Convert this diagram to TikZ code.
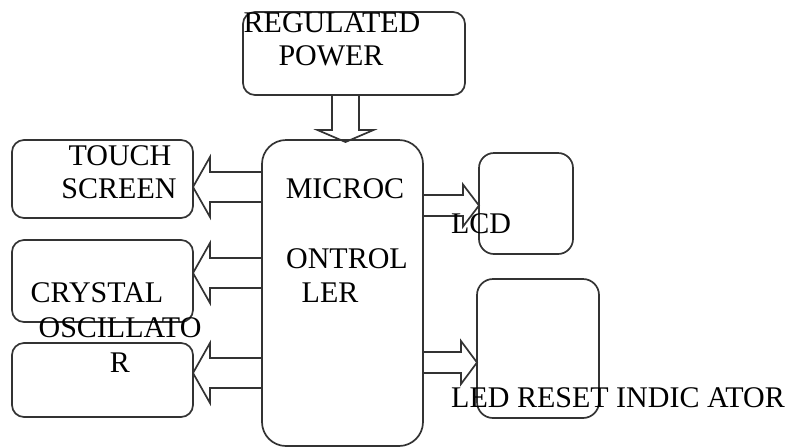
\documentclass[tikz,border=0pt]{standalone}
\usepackage{fontspec}
\setmainfont{Liberation Serif}
\usetikzlibrary{calc}

\tikzset{
  blk/.style={draw=black!80, line width=0.85pt, rounded corners=6pt, minimum width=90.5pt, outer sep=0pt, inner sep=0pt},
  lbl/.style={inner sep=0pt, anchor=base, font=\fontsize{15}{18}\selectfont},
  fatline/.style={draw=black!80, line width=0.85pt}
}

% hollow block arrow: tail, tip, shaft half width, head half width, head length
\newcommand{\fatarrow}[5]{%
  \coordinate (neck) at ($(#2)!#5!(#1)$);
  \draw[fatline] ($(#1)!#3!90:(#2)$) -- ($(neck)!#3!90:(#2)$) -- ($(neck)!#4!90:(#2)$) -- (#2)
    -- ($(neck)!#4!-90:(#2)$) -- ($(neck)!#3!-90:(#2)$) -- ($(#1)!#3!-90:(#2)$);
}

\begin{document}
\begin{tikzpicture}[x=0.5pt,y=-0.5pt]
  \useasboundingbox (0,0) rectangle (788,447);

  \node[blk, minimum width=111pt, minimum height=41.5pt] (power) at (354,53.5) {};
  \node[blk, minimum width=80.5pt, minimum height=153pt, rounded corners=12pt] (micro) at (342.5,293) {};
  \node[blk, minimum height=39pt] (touch) at (102.5,179) {};
  \node[blk, minimum height=41pt] (crystal) at (102.5,281) {};
  \node[blk, minimum height=37pt] (osc) at (102.5,380) {};
  \node[blk, minimum width=47pt, minimum height=50.5pt, rounded corners=7.5pt] (lcd) at (526,203.5) {};
  \node[blk, minimum width=61pt, minimum height=69.5pt, rounded corners=8pt] (led) at (538,348.5) {};

  \coordinate (pw-tail) at ($(power.south)+(-8.5,0)$);
  \coordinate (pw-tip) at ($(pw-tail |- micro.north)+(0,2)$);
  \fatarrow{pw-tail}{pw-tip}{6.75pt}{14pt}{6pt}

  \coordinate (ts-tail) at ($(touch.east -| micro.west)+(0,8)$);
  \coordinate (ts-tip) at (ts-tail -| touch.east);
  \fatarrow{ts-tail}{ts-tip}{7.5pt}{15pt}{8.5pt}

  \coordinate (cr-tail) at ($(crystal.east -| micro.west)+(0,-8)$);
  \coordinate (cr-tip) at (cr-tail -| crystal.east);
  \fatarrow{cr-tail}{cr-tip}{7.5pt}{15pt}{8.5pt}

  \coordinate (os-tail) at ($(osc.east -| micro.west)+(0,-7)$);
  \coordinate (os-tip) at (os-tail -| osc.east);
  \fatarrow{os-tail}{os-tip}{7.5pt}{15pt}{8.5pt}

  \coordinate (lc-tail) at ($(lcd.west -| micro.east)+(0,2)$);
  \coordinate (lc-tip) at (lc-tail -| lcd.west);
  \fatarrow{lc-tail}{lc-tip}{5.25pt}{10.5pt}{8pt}

  \coordinate (ld-tail) at ($(led.west -| micro.east)+(0,14)$);
  \coordinate (ld-tip) at (ld-tail -| led.west);
  \fatarrow{ld-tail}{ld-tip}{5.25pt}{10.75pt}{8pt}

  \node[lbl] (reg1) at (332,32) {REGULATED};
  \node[lbl] (reg2) at (331,65) {POWER};
  \node[lbl] (ts1) at (120,165) {TOUCH};
  \node[lbl] (ts2) at (119,198) {SCREEN};
  \node[lbl] (mc1) at (345,198) {MICROC};
  \node[lbl] (mc2) at (347,268) {ONTROL};
  \node[lbl] (mc3) at (330,302) {LER};
  \node[lbl] (cr1) at (97,302) {CRYSTAL};
  \node[lbl] (cr2) at (120,337) {OSCILLATO};
  \node[lbl] (cr3) at (120,372) {R};
  \node[lbl] (lcdtxt) at (481,233) {LCD};
  \node[lbl] (ledtxt) at (618,407) {LED RESET INDIC ATOR};
\end{tikzpicture}
\end{document}
